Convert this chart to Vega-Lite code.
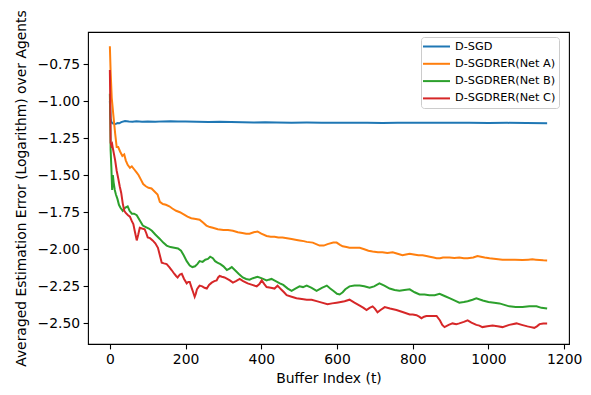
{
  "$schema": "https://vega.github.io/schema/vega-lite/v6.json",
  "width": 481,
  "height": 312,
  "autosize": {"type": "none"},
  "padding": {"left": 88, "top": 32, "right": 22, "bottom": 51},
  "config": {
    "font": "DejaVu Sans",
    "view": {"stroke": "black", "strokeWidth": 1.1},
    "axis": {
      "domain": false,
      "grid": false,
      "tickColor": "black",
      "tickWidth": 1.1,
      "tickSize": 4.9,
      "labelFont": "DejaVu Sans",
      "labelFontSize": 13.9,
      "labelColor": "black",
      "labelPadding": 3.5,
      "titleFont": "DejaVu Sans",
      "titleFontSize": 13.9,
      "titleFontWeight": "normal",
      "titleColor": "black"
    },
    "legend": {
      "orient": "none",
      "legendX": 333,
      "legendY": 5,
      "title": null,
      "padding": 3.5,
      "strokeColor": "#cccccc",
      "fillColor": "rgba(255,255,255,0.8)",
      "cornerRadius": 3,
      "labelFont": "DejaVu Sans",
      "labelFontSize": 11.3,
      "labelColor": "black",
      "symbolType": "M-1,0H4.4",
      "symbolSize": 100,
      "symbolStrokeWidth": 2,
      "symbolOffset": -2.5,
      "labelOffset": 21,
      "rowPadding": 5.3
    }
  },
  "datasets": {
    "sgd": [
      {"t":0,"v":-1.0},{"t":2,"v":-1.12},{"t":4,"v":-1.14},{"t":7,"v":-1.15},{"t":10,"v":-1.152},{"t":15,"v":-1.155},{"t":20,"v":-1.148},{"t":25,"v":-1.15},{"t":30,"v":-1.142},{"t":40,"v":-1.135},{"t":50,"v":-1.138},{"t":60,"v":-1.14},{"t":70,"v":-1.137},{"t":85,"v":-1.14},{"t":100,"v":-1.138},{"t":120,"v":-1.14},{"t":140,"v":-1.137},{"t":160,"v":-1.136},{"t":180,"v":-1.137},{"t":200,"v":-1.138},{"t":230,"v":-1.14},{"t":260,"v":-1.142},{"t":290,"v":-1.14},{"t":320,"v":-1.141},{"t":350,"v":-1.143},{"t":380,"v":-1.144},{"t":410,"v":-1.143},{"t":440,"v":-1.145},{"t":480,"v":-1.146},{"t":520,"v":-1.145},{"t":560,"v":-1.146},{"t":600,"v":-1.147},{"t":640,"v":-1.146},{"t":680,"v":-1.147},{"t":720,"v":-1.148},{"t":760,"v":-1.146},{"t":800,"v":-1.147},{"t":850,"v":-1.146},{"t":900,"v":-1.147},{"t":950,"v":-1.147},{"t":1000,"v":-1.148},{"t":1050,"v":-1.147},{"t":1100,"v":-1.148},{"t":1155,"v":-1.149}
    ],
    "netA": [
      {"t":0,"v":-0.63},{"t":2,"v":-0.80},{"t":5,"v":-0.98},{"t":9,"v":-1.09},{"t":14,"v":-1.22},{"t":18,"v":-1.31},{"t":22,"v":-1.31},{"t":27,"v":-1.34},{"t":33,"v":-1.37},{"t":38,"v":-1.36},{"t":42,"v":-1.40},{"t":47,"v":-1.43},{"t":53,"v":-1.45},{"t":58,"v":-1.44},{"t":64,"v":-1.46},{"t":70,"v":-1.48},{"t":76,"v":-1.50},{"t":82,"v":-1.53},{"t":88,"v":-1.56},{"t":95,"v":-1.575},{"t":102,"v":-1.585},{"t":110,"v":-1.59},{"t":118,"v":-1.61},{"t":126,"v":-1.63},{"t":132,"v":-1.68},{"t":140,"v":-1.695},{"t":148,"v":-1.70},{"t":157,"v":-1.71},{"t":165,"v":-1.725},{"t":175,"v":-1.74},{"t":185,"v":-1.75},{"t":195,"v":-1.765},{"t":205,"v":-1.78},{"t":215,"v":-1.79},{"t":227,"v":-1.795},{"t":237,"v":-1.80},{"t":246,"v":-1.82},{"t":255,"v":-1.84},{"t":264,"v":-1.85},{"t":272,"v":-1.855},{"t":285,"v":-1.865},{"t":300,"v":-1.87},{"t":312,"v":-1.87},{"t":325,"v":-1.875},{"t":338,"v":-1.885},{"t":350,"v":-1.89},{"t":360,"v":-1.895},{"t":369,"v":-1.895},{"t":380,"v":-1.885},{"t":390,"v":-1.88},{"t":400,"v":-1.895},{"t":414,"v":-1.91},{"t":425,"v":-1.915},{"t":435,"v":-1.915},{"t":445,"v":-1.92},{"t":456,"v":-1.92},{"t":468,"v":-1.925},{"t":480,"v":-1.93},{"t":490,"v":-1.935},{"t":501,"v":-1.94},{"t":512,"v":-1.945},{"t":520,"v":-1.95},{"t":536,"v":-1.955},{"t":545,"v":-1.965},{"t":554,"v":-1.975},{"t":565,"v":-1.975},{"t":575,"v":-1.965},{"t":590,"v":-1.955},{"t":599,"v":-1.955},{"t":608,"v":-1.97},{"t":615,"v":-1.98},{"t":625,"v":-1.985},{"t":633,"v":-1.99},{"t":645,"v":-1.99},{"t":660,"v":-1.99},{"t":672,"v":-2.0},{"t":683,"v":-2.01},{"t":694,"v":-2.015},{"t":708,"v":-2.02},{"t":720,"v":-2.02},{"t":733,"v":-2.025},{"t":747,"v":-2.02},{"t":760,"v":-2.03},{"t":773,"v":-2.04},{"t":782,"v":-2.035},{"t":792,"v":-2.03},{"t":803,"v":-2.035},{"t":815,"v":-2.04},{"t":826,"v":-2.04},{"t":836,"v":-2.045},{"t":845,"v":-2.05},{"t":855,"v":-2.055},{"t":863,"v":-2.06},{"t":872,"v":-2.06},{"t":880,"v":-2.055},{"t":897,"v":-2.055},{"t":910,"v":-2.058},{"t":923,"v":-2.055},{"t":935,"v":-2.06},{"t":945,"v":-2.06},{"t":960,"v":-2.055},{"t":971,"v":-2.045},{"t":980,"v":-2.05},{"t":990,"v":-2.055},{"t":1003,"v":-2.06},{"t":1020,"v":-2.065},{"t":1037,"v":-2.07},{"t":1055,"v":-2.07},{"t":1070,"v":-2.07},{"t":1090,"v":-2.072},{"t":1105,"v":-2.07},{"t":1116,"v":-2.068},{"t":1125,"v":-2.07},{"t":1135,"v":-2.072},{"t":1145,"v":-2.074},{"t":1155,"v":-2.075}
    ],
    "netB": [
      {"t":0,"v":-0.95},{"t":1,"v":-1.10},{"t":2,"v":-1.33},{"t":4,"v":-1.45},{"t":6,"v":-1.60},{"t":8,"v":-1.50},{"t":10,"v":-1.55},{"t":13,"v":-1.60},{"t":16,"v":-1.63},{"t":20,"v":-1.66},{"t":24,"v":-1.70},{"t":28,"v":-1.72},{"t":34,"v":-1.74},{"t":40,"v":-1.72},{"t":47,"v":-1.71},{"t":52,"v":-1.74},{"t":58,"v":-1.76},{"t":64,"v":-1.76},{"t":71,"v":-1.77},{"t":78,"v":-1.80},{"t":87,"v":-1.84},{"t":95,"v":-1.85},{"t":103,"v":-1.86},{"t":111,"v":-1.875},{"t":120,"v":-1.90},{"t":132,"v":-1.93},{"t":141,"v":-1.955},{"t":150,"v":-1.975},{"t":160,"v":-1.985},{"t":170,"v":-1.99},{"t":180,"v":-1.995},{"t":188,"v":-2.01},{"t":195,"v":-2.04},{"t":203,"v":-2.08},{"t":211,"v":-2.11},{"t":218,"v":-2.12},{"t":225,"v":-2.115},{"t":231,"v":-2.10},{"t":237,"v":-2.08},{"t":245,"v":-2.085},{"t":252,"v":-2.07},{"t":259,"v":-2.065},{"t":265,"v":-2.05},{"t":272,"v":-2.06},{"t":278,"v":-2.08},{"t":284,"v":-2.09},{"t":292,"v":-2.10},{"t":300,"v":-2.115},{"t":309,"v":-2.14},{"t":316,"v":-2.13},{"t":322,"v":-2.12},{"t":330,"v":-2.14},{"t":340,"v":-2.165},{"t":351,"v":-2.19},{"t":360,"v":-2.20},{"t":369,"v":-2.205},{"t":378,"v":-2.195},{"t":390,"v":-2.185},{"t":400,"v":-2.195},{"t":414,"v":-2.21},{"t":420,"v":-2.205},{"t":427,"v":-2.20},{"t":438,"v":-2.215},{"t":449,"v":-2.23},{"t":458,"v":-2.24},{"t":470,"v":-2.265},{"t":480,"v":-2.28},{"t":490,"v":-2.265},{"t":501,"v":-2.25},{"t":510,"v":-2.255},{"t":520,"v":-2.245},{"t":533,"v":-2.26},{"t":546,"v":-2.28},{"t":560,"v":-2.26},{"t":573,"v":-2.245},{"t":582,"v":-2.265},{"t":590,"v":-2.28},{"t":600,"v":-2.30},{"t":607,"v":-2.305},{"t":615,"v":-2.29},{"t":622,"v":-2.27},{"t":633,"v":-2.25},{"t":646,"v":-2.245},{"t":660,"v":-2.245},{"t":672,"v":-2.25},{"t":686,"v":-2.26},{"t":698,"v":-2.25},{"t":712,"v":-2.23},{"t":725,"v":-2.245},{"t":739,"v":-2.265},{"t":752,"v":-2.275},{"t":765,"v":-2.28},{"t":778,"v":-2.275},{"t":792,"v":-2.27},{"t":805,"v":-2.29},{"t":818,"v":-2.305},{"t":831,"v":-2.305},{"t":844,"v":-2.31},{"t":858,"v":-2.31},{"t":871,"v":-2.30},{"t":884,"v":-2.315},{"t":897,"v":-2.33},{"t":910,"v":-2.345},{"t":923,"v":-2.36},{"t":935,"v":-2.355},{"t":945,"v":-2.35},{"t":958,"v":-2.34},{"t":968,"v":-2.33},{"t":985,"v":-2.345},{"t":1000,"v":-2.355},{"t":1015,"v":-2.36},{"t":1029,"v":-2.365},{"t":1042,"v":-2.375},{"t":1055,"v":-2.385},{"t":1072,"v":-2.39},{"t":1090,"v":-2.39},{"t":1108,"v":-2.385},{"t":1127,"v":-2.385},{"t":1140,"v":-2.395},{"t":1155,"v":-2.40}
    ],
    "netC": [
      {"t":0,"v":-0.79},{"t":1,"v":-1.0},{"t":2,"v":-1.28},{"t":4,"v":-1.30},{"t":6,"v":-1.29},{"t":8,"v":-1.32},{"t":11,"v":-1.36},{"t":14,"v":-1.40},{"t":18,"v":-1.47},{"t":22,"v":-1.52},{"t":26,"v":-1.575},{"t":30,"v":-1.62},{"t":34,"v":-1.69},{"t":38,"v":-1.74},{"t":42,"v":-1.755},{"t":48,"v":-1.77},{"t":53,"v":-1.78},{"t":58,"v":-1.81},{"t":62,"v":-1.83},{"t":66,"v":-1.88},{"t":71,"v":-1.94},{"t":75,"v":-1.90},{"t":79,"v":-1.855},{"t":85,"v":-1.86},{"t":92,"v":-1.865},{"t":96,"v":-1.89},{"t":100,"v":-1.92},{"t":106,"v":-1.925},{"t":113,"v":-1.94},{"t":120,"v":-1.96},{"t":127,"v":-1.99},{"t":132,"v":-2.04},{"t":137,"v":-2.09},{"t":143,"v":-2.095},{"t":150,"v":-2.10},{"t":157,"v":-2.12},{"t":163,"v":-2.14},{"t":170,"v":-2.165},{"t":175,"v":-2.18},{"t":179,"v":-2.19},{"t":185,"v":-2.17},{"t":190,"v":-2.165},{"t":196,"v":-2.2},{"t":203,"v":-2.23},{"t":207,"v":-2.22},{"t":211,"v":-2.22},{"t":216,"v":-2.26},{"t":220,"v":-2.29},{"t":224,"v":-2.32},{"t":227,"v":-2.30},{"t":230,"v":-2.27},{"t":234,"v":-2.255},{"t":237,"v":-2.245},{"t":244,"v":-2.25},{"t":250,"v":-2.26},{"t":256,"v":-2.265},{"t":262,"v":-2.24},{"t":269,"v":-2.225},{"t":276,"v":-2.215},{"t":282,"v":-2.21},{"t":286,"v":-2.19},{"t":290,"v":-2.18},{"t":296,"v":-2.185},{"t":303,"v":-2.19},{"t":310,"v":-2.2},{"t":317,"v":-2.21},{"t":325,"v":-2.225},{"t":333,"v":-2.215},{"t":343,"v":-2.20},{"t":352,"v":-2.215},{"t":364,"v":-2.23},{"t":376,"v":-2.24},{"t":388,"v":-2.25},{"t":395,"v":-2.235},{"t":401,"v":-2.21},{"t":408,"v":-2.235},{"t":414,"v":-2.255},{"t":425,"v":-2.26},{"t":435,"v":-2.265},{"t":443,"v":-2.245},{"t":452,"v":-2.27},{"t":460,"v":-2.29},{"t":467,"v":-2.31},{"t":480,"v":-2.32},{"t":493,"v":-2.33},{"t":507,"v":-2.335},{"t":520,"v":-2.34},{"t":533,"v":-2.34},{"t":546,"v":-2.35},{"t":560,"v":-2.36},{"t":575,"v":-2.37},{"t":587,"v":-2.365},{"t":599,"v":-2.36},{"t":610,"v":-2.355},{"t":620,"v":-2.35},{"t":633,"v":-2.34},{"t":646,"v":-2.36},{"t":660,"v":-2.38},{"t":670,"v":-2.395},{"t":678,"v":-2.41},{"t":686,"v":-2.395},{"t":694,"v":-2.385},{"t":700,"v":-2.40},{"t":707,"v":-2.425},{"t":715,"v":-2.41},{"t":726,"v":-2.39},{"t":740,"v":-2.40},{"t":757,"v":-2.41},{"t":775,"v":-2.425},{"t":792,"v":-2.44},{"t":800,"v":-2.44},{"t":810,"v":-2.445},{"t":817,"v":-2.455},{"t":823,"v":-2.465},{"t":830,"v":-2.455},{"t":836,"v":-2.45},{"t":850,"v":-2.45},{"t":863,"v":-2.45},{"t":872,"v":-2.48},{"t":878,"v":-2.51},{"t":884,"v":-2.525},{"t":895,"v":-2.51},{"t":905,"v":-2.50},{"t":915,"v":-2.505},{"t":923,"v":-2.50},{"t":935,"v":-2.49},{"t":945,"v":-2.48},{"t":955,"v":-2.495},{"t":968,"v":-2.51},{"t":976,"v":-2.515},{"t":984,"v":-2.525},{"t":997,"v":-2.52},{"t":1011,"v":-2.515},{"t":1024,"v":-2.52},{"t":1037,"v":-2.525},{"t":1055,"v":-2.51},{"t":1074,"v":-2.50},{"t":1088,"v":-2.51},{"t":1103,"v":-2.52},{"t":1112,"v":-2.525},{"t":1121,"v":-2.53},{"t":1128,"v":-2.52},{"t":1135,"v":-2.505},{"t":1145,"v":-2.50},{"t":1155,"v":-2.50}
    ]
  },
  "encoding": {
    "x": {
      "field": "t",
      "type": "quantitative",
      "scale": {"domain": [-57.75, 1212.75], "nice": false, "zero": false},
      "axis": {"values": [0, 200, 400, 600, 800, 1000, 1200], "format": "d", "title": "Buffer Index (t)", "titlePadding": 5}
    },
    "y": {
      "field": "v",
      "type": "quantitative",
      "scale": {"domain": [-2.639, -0.534], "nice": false, "zero": false},
      "axis": {"values": [-2.5, -2.25, -2.0, -1.75, -1.5, -1.25, -1.0, -0.75], "format": ".2f", "title": "Averaged Estimation Error (Logarithm) over Agents", "titlePadding": 9}
    },
    "color": {
      "datum": "D-SGD",
      "type": "nominal",
      "scale": {
        "domain": ["D-SGD", "D-SGDRER(Net A)", "D-SGDRER(Net B)", "D-SGDRER(Net C)"],
        "range": ["#1f77b4", "#ff7f0e", "#2ca02c", "#d62728"]
      }
    }
  },
  "layer": [
    {"data": {"name": "sgd"}, "mark": {"type": "line", "strokeWidth": 2, "clip": true}},
    {"data": {"name": "netA"}, "mark": {"type": "line", "strokeWidth": 2, "clip": true}, "encoding": {"color": {"datum": "D-SGDRER(Net A)", "type": "nominal"}}},
    {"data": {"name": "netB"}, "mark": {"type": "line", "strokeWidth": 2, "clip": true}, "encoding": {"color": {"datum": "D-SGDRER(Net B)", "type": "nominal"}}},
    {"data": {"name": "netC"}, "mark": {"type": "line", "strokeWidth": 2, "clip": true}, "encoding": {"color": {"datum": "D-SGDRER(Net C)", "type": "nominal"}}}
  ]
}
